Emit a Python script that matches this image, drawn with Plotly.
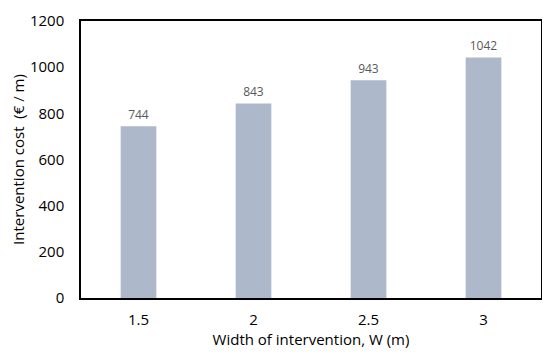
import plotly.graph_objects as go

categories = ["1.5", "2", "2.5", "3"]
values = [744, 843, 943, 1042]
y_ticks = [0, 200, 400, 600, 800, 1000, 1200]

fig = go.Figure(go.Bar(
    x=categories, y=values,
    marker=dict(color="#adb9ca", line=dict(width=0)),
    width=0.31,
    text=[str(v) for v in values],
    textposition="outside",
    textfont=dict(size=12, color="#595959", family="Open Sans"),
    cliponaxis=False,
))

# page body has an 8px default margin, so the figure is sized/offset to compensate
fig.update_layout(
    width=542, height=356,
    margin=dict(l=73, r=9, t=13, b=66, autoexpand=False),
    paper_bgcolor="white", plot_bgcolor="white",
    font=dict(family="Open Sans", size=15, color="#000000"),
    showlegend=False,
)
fig.update_xaxes(
    type="category", automargin=True,
    showline=True, linecolor="black", linewidth=1.5, mirror=True,
    showgrid=False, ticks="", ticklabelstandoff=7,
    tickfont=dict(size=15),
    title=dict(text="Width of intervention, W (m)", font=dict(size=15), standoff=7),
)
fig.update_yaxes(
    range=[0, 1200], tickvals=y_ticks, automargin=True,
    showline=True, linecolor="black", linewidth=1.5, mirror=True,
    showgrid=False, ticks="", zeroline=False, ticklabelstandoff=12,
    tickfont=dict(size=15),
    title=dict(text="Intervention cost  (€ / m)", font=dict(size=15), standoff=5),
)

fig.write_html("out.html")
